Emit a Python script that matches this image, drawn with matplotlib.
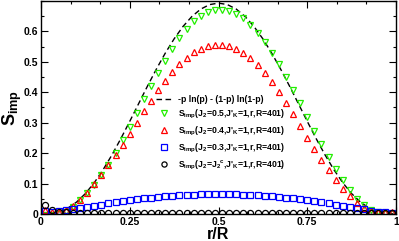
import matplotlib
matplotlib.use("Agg")
import matplotlib.pyplot as plt
from matplotlib.ticker import MultipleLocator

plt.rcParams["font.family"] = ["Liberation Sans", "DejaVu Sans"]
plt.rcParams["mathtext.fontset"] = "custom"
plt.rcParams["mathtext.rm"] = "Liberation Sans:bold"
plt.rcParams["mathtext.it"] = "Liberation Sans:bold"
plt.rcParams["mathtext.bf"] = "Liberation Sans:bold"
plt.rcParams["mathtext.default"] = "rm"

# dashed reference curve  -p ln(p) - (1-p) ln(1-p)
x_line = [0.0, 0.025, 0.05, 0.075, 0.1, 0.125, 0.15, 0.175, 0.2, 0.225, 0.25,
          0.275, 0.3, 0.325, 0.35, 0.375, 0.4, 0.425, 0.45, 0.475, 0.5,
          0.525, 0.55, 0.575, 0.6, 0.625, 0.65, 0.675, 0.7, 0.725, 0.75,
          0.775, 0.8, 0.825, 0.85, 0.875, 0.9, 0.925, 0.95, 0.975, 1.0]
s_line = [0.0, 0.001, 0.0066, 0.0189, 0.039, 0.067, 0.1028, 0.1457, 0.1945,
          0.2479, 0.3045, 0.3626, 0.4205, 0.4762, 0.5285, 0.5756, 0.6162,
          0.6491, 0.6734, 0.6882, 0.6931,
          0.6882, 0.6734, 0.6491, 0.6162, 0.5756, 0.5285, 0.4762, 0.4205,
          0.3626, 0.3045, 0.2479, 0.1945, 0.1457, 0.1028, 0.067, 0.039,
          0.0189, 0.0066, 0.001, 0.0]

r_over_R = [0.01, 0.03, 0.05, 0.07, 0.09, 0.11, 0.13, 0.15, 0.17, 0.19,
            0.21, 0.23, 0.25, 0.27, 0.29, 0.31, 0.33, 0.35, 0.37, 0.39,
            0.41, 0.43, 0.45, 0.47, 0.49, 0.51, 0.53, 0.55, 0.57, 0.59,
            0.61, 0.63, 0.65, 0.67, 0.69, 0.71, 0.73, 0.75, 0.77, 0.79,
            0.81, 0.83, 0.85, 0.87, 0.89, 0.91, 0.93, 0.95, 0.97, 0.99]

s_j05 = [-0.004, -0.003, 0.0, 0.008, 0.024, 0.045, 0.068, 0.095, 0.127, 0.162,
         0.201, 0.243, 0.287, 0.332, 0.377, 0.421, 0.463, 0.504, 0.543, 0.578,
         0.608, 0.633, 0.651, 0.663, 0.669, 0.67, 0.667, 0.658, 0.643, 0.622,
         0.596, 0.565, 0.53, 0.492, 0.451, 0.408, 0.364, 0.319, 0.274, 0.23,
         0.188, 0.148, 0.111, 0.078, 0.05, 0.028, 0.013, 0.005, 0.001, 0.0]

s_j04 = [0.012, 0.008, 0.007, 0.012, 0.027, 0.047, 0.07, 0.097, 0.128, 0.16,
         0.193, 0.228, 0.263, 0.3, 0.337, 0.372, 0.406, 0.438, 0.466, 0.492,
         0.514, 0.531, 0.543, 0.551, 0.555, 0.555, 0.551, 0.543, 0.53, 0.512,
         0.49, 0.464, 0.434, 0.4, 0.364, 0.327, 0.289, 0.251, 0.214, 0.178,
         0.144, 0.112, 0.083, 0.058, 0.037, 0.021, 0.011, 0.006, 0.006, 0.007]

s_j03 = [0.01, 0.008, 0.009, 0.012, 0.015, 0.019, 0.023, 0.027, 0.031, 0.035,
         0.038, 0.042, 0.045, 0.048, 0.051, 0.054, 0.056, 0.058, 0.06, 0.062,
         0.063, 0.064, 0.065, 0.066, 0.066, 0.066, 0.066, 0.065, 0.064, 0.063,
         0.062, 0.06, 0.058, 0.056, 0.054, 0.051, 0.048, 0.045, 0.042, 0.038,
         0.035, 0.031, 0.027, 0.023, 0.019, 0.015, 0.011, 0.008, 0.005, 0.004]

s_j2c = [0.03, 0.012, 0.008, 0.006, 0.004, 0.003, 0.003, 0.003, 0.003, 0.003,
         0.003, 0.003, 0.003, 0.003, 0.003, 0.003, 0.003, 0.003, 0.003, 0.003,
         0.003, 0.003, 0.003, 0.003, 0.003, 0.003, 0.003, 0.003, 0.003, 0.003,
         0.003, 0.003, 0.003, 0.003, 0.003, 0.003, 0.003, 0.003, 0.003, 0.003,
         0.003, 0.003, 0.003, 0.003, 0.003, 0.003, 0.004, 0.004, 0.003, 0.003]

fig = plt.figure(figsize=(3.99, 2.41), dpi=100, facecolor="white")
ax = fig.add_axes([41 / 399, 1 - 214 / 241, 355 / 399, 213 / 241])

ax.plot(x_line, s_line, color="black", lw=1.0, ls=(0, (4, 2.5)),
        label="-p ln(p) - (1-p) ln(1-p)")
mk = dict(ls="none", ms=4.4, mew=0.9, mfc="none")
ax.plot(r_over_R, s_j05, marker="v", mec="#22ee00", label="S$_{imp}$(J$_2$=0.5,J'$_K$=1,r,R=401)", **mk)
ax.plot(r_over_R, s_j04, marker="^", mec="#ff0000", label="S$_{imp}$(J$_2$=0.4,J'$_K$=1,r,R=401)", **mk)
ax.plot(r_over_R, s_j03, marker="s", mec="#0000ff", label="S$_{imp}$(J$_2$=0.3,J'$_K$=1,r,R=401)", **mk)
ax.plot(r_over_R, s_j2c, marker="o", mec="black", label="S$_{imp}$(J$_2$=J$_2$$^c$,J'$_K$=1,r,R=401)", **mk)

ax.set_xlim(0, 1)
ax.set_ylim(0, 0.7)
ax.xaxis.set_minor_locator(MultipleLocator(0.25 / 3))
ax.yaxis.set_minor_locator(MultipleLocator(0.05))
ax.set_xticks([0, 0.25, 0.5, 0.75, 1])
ax.set_xticklabels(["0", "0.25", "0.5", "0.75", "1"])
ax.set_yticks([0, 0.1, 0.2, 0.3, 0.4, 0.5, 0.6])
ax.set_yticklabels(["0", "0.1", "0.2", "0.3", "0.4", "0.5", "0.6"])
ax.tick_params(which="both", direction="in", top=True, right=True, width=0.8)
ax.tick_params(which="major", length=5, labelsize=7.5, pad=2)
ax.tick_params(which="minor", length=2.5)
for lab in ax.get_xticklabels() + ax.get_yticklabels():
    lab.set_fontweight("bold")
for sp in ax.spines.values():
    sp.set_linewidth(1.0)

ax.set_xlabel("r/R", fontsize=11.5, fontweight="bold", labelpad=0)
ax.set_ylabel("S$_{imp}$", fontsize=13, fontweight="bold")
ax.yaxis.set_label_coords(-0.048, 0.5)

leg = ax.legend(loc="upper left", bbox_to_anchor=(0.315, 0.575), frameon=False,
                prop={"size": 6.2, "weight": "bold"}, handlelength=1.8,
                handletextpad=0.7, labelspacing=0.45, borderaxespad=0,
                markerscale=0.85)

fig.savefig("out.png", dpi=100, facecolor="white")
